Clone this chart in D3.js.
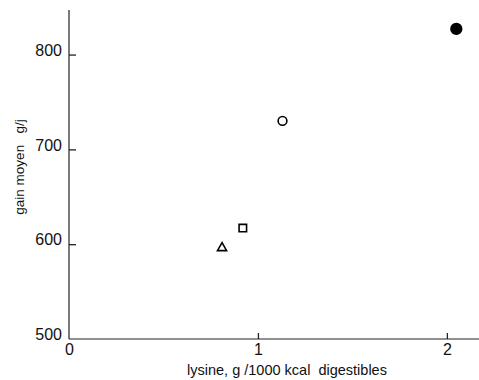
<!DOCTYPE html>
<html>
<head>
<meta charset="utf-8">
<script src="https://cdn.jsdelivr.net/npm/d3@7"></script>
<style>
  body { margin: 0; background: #fff; }
  svg { display: block; }
  text { font-family: "Liberation Sans", Arial, sans-serif; fill: #111; }
</style>
</head>
<body>
<svg id="chart" width="479" height="380"></svg>
<script>
// data
var lysine = [0.81, 0.92, 1.13, 2.05];
var gain   = [596, 617, 730, 827];
var shapes = ["triangle", "square", "circle", "dot"];
var xTicks = [0, 1, 2];
var yTicks = [500, 600, 700, 800];

var svg = d3.select("#chart");

// origin at (69,339)
var x = d3.scaleLinear().domain([0, 2.17]).range([69, 479]);
var y = d3.scaleLinear().domain([500, 847]).range([339, 10]);

var ink = "#222";

// y axis, ticks pointing inward
var yAxis = svg.append("g")
    .attr("transform", "translate(69,0)")
    .call(d3.axisLeft(y).tickValues(yTicks).tickFormat(d3.format("d"))
      .tickSizeInner(-7).tickSizeOuter(0).tickPadding(7));
yAxis.select(".domain").remove();
yAxis.selectAll(".tick line").attr("stroke", ink).attr("stroke-width", 1.3)
    .filter(function(d) { return d == 500; }).remove();
yAxis.selectAll(".tick text").attr("font-size", 16).attr("dy", "0.05em").attr("fill", ink);
svg.append("line")
    .attr("x1", 69).attr("x2", 69).attr("y1", y(847)).attr("y2", y(500))
    .attr("stroke", ink).attr("stroke-width", 1.2);

// x axis, ticks pointing up
var xAxis = svg.append("g")
    .attr("transform", "translate(0,339)")
    .call(d3.axisBottom(x).tickValues(xTicks).tickFormat(d3.format("d"))
      .tickSizeInner(-6).tickSizeOuter(0).tickPadding(5));
xAxis.select(".domain").remove();
xAxis.selectAll(".tick line").attr("stroke", ink).attr("stroke-width", 1.3)
    .filter(function(d) { return d == 0; }).remove();
xAxis.selectAll(".tick text").attr("font-size", 16).attr("fill", ink);
svg.append("line")
    .attr("x1", x(0)).attr("x2", x(2.17)).attr("y1", 339).attr("y2", 339)
    .attr("stroke", ink).attr("stroke-width", 1.2);

// axis titles
svg.append("text")
    .attr("x", 287).attr("y", 375)
    .attr("text-anchor", "middle")
    .attr("font-size", 14.5)
    .attr("xml:space", "preserve")
    .text("lysine, g /1000 kcal  digestibles");

svg.append("text")
    .attr("transform", "translate(24,167) rotate(-90)")
    .attr("text-anchor", "middle")
    .attr("font-size", 13.5)
    .attr("xml:space", "preserve")
    .text("gain moyen   g/j");

// points
var sym = {
  triangle: d3.symbol(d3.symbolTriangle, 36),
  square: d3.symbol(d3.symbolSquare, 56),
  circle: d3.symbol(d3.symbolCircle, 60),
  dot: d3.symbol(d3.symbolCircle, 90)
};

svg.append("g").selectAll("path")
    .data(lysine)
    .enter()
    .append("path")
    .attr("transform", function(d, i) { return "translate(" + x(d) + "," + y(gain[i]) + ")"; })
    .attr("d", function(d, i) { return sym[shapes[i]](); })
    .attr("fill", function(d, i) { return shapes[i] == "dot" ? "#000" : "none"; })
    .attr("stroke", "#000")
    .attr("stroke-width", 1.6);
</script>
</body>
</html>
